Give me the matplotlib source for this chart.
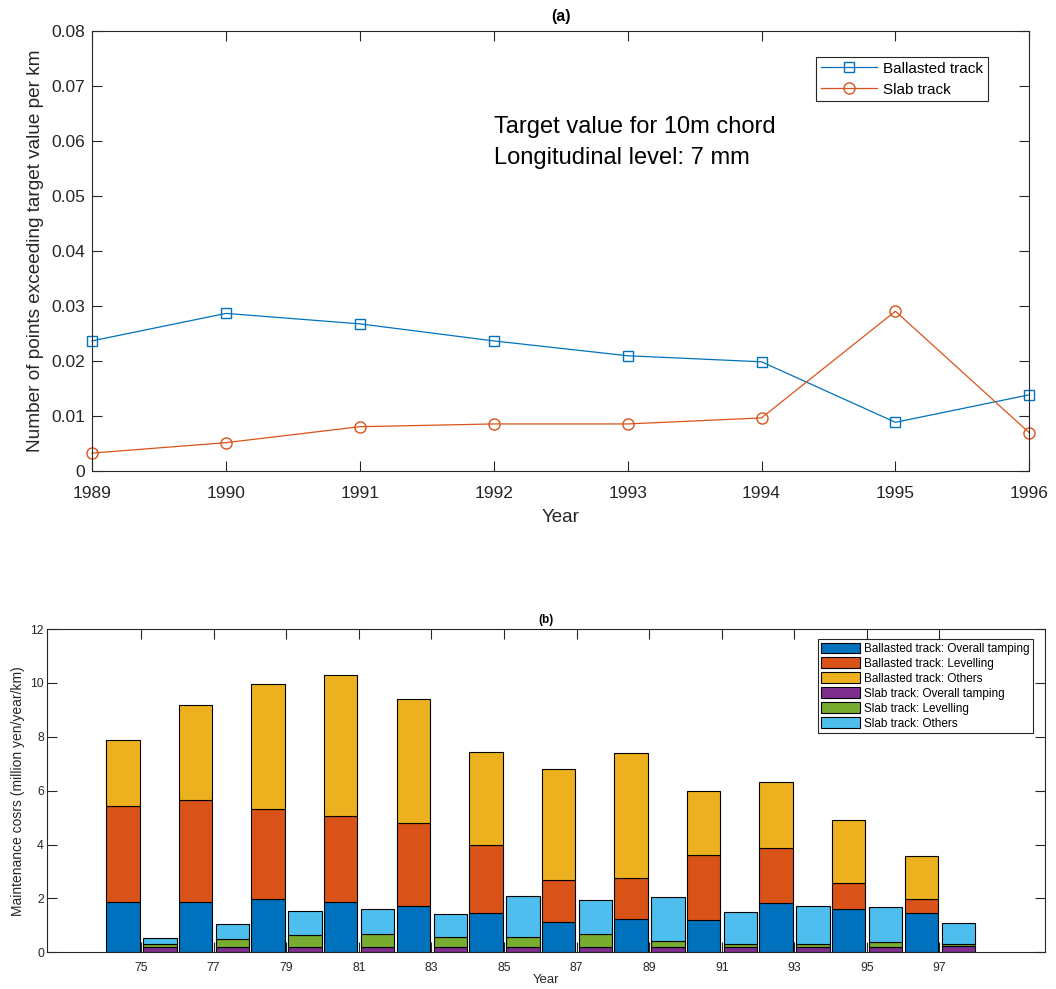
import numpy as np
import matplotlib
matplotlib.use('Agg')
import matplotlib.pyplot as plt

plt.rcParams['font.family'] = ['Liberation Sans', 'DejaVu Sans']

# (a) points exceeding the 7 mm target value, per km
years_a = [1989, 1990, 1991, 1992, 1993, 1994, 1995, 1996]
ballasted_exceed = [0.0236, 0.0286, 0.0267, 0.0236, 0.0209, 0.0198, 0.0088, 0.0138]
slab_exceed = [0.0032, 0.0051, 0.0080, 0.0085, 0.0085, 0.0096, 0.0290, 0.0069]

# (b) maintenance costs, million yen/year/km
years_b = [75, 77, 79, 81, 83, 85, 87, 89, 91, 93, 95, 97]
bal_tamping = [1.85, 1.85, 1.96, 1.85, 1.70, 1.47, 1.12, 1.22, 1.20, 1.84, 1.59, 1.47]
bal_levelling = [3.58, 3.82, 3.35, 3.21, 3.11, 2.53, 1.55, 1.55, 2.43, 2.02, 0.97, 0.49]
bal_others = [2.46, 3.52, 4.63, 5.25, 4.61, 3.43, 4.13, 4.64, 2.36, 2.47, 2.34, 1.63]
slab_tamping = [0.19, 0.19, 0.19, 0.21, 0.19, 0.19, 0.19, 0.19, 0.19, 0.19, 0.19, 0.22]
slab_levelling = [0.11, 0.32, 0.44, 0.46, 0.37, 0.37, 0.48, 0.23, 0.12, 0.12, 0.19, 0.09]
slab_others = [0.22, 0.53, 0.91, 0.92, 0.88, 1.54, 1.26, 1.64, 1.17, 1.39, 1.29, 0.76]

axis_col = '#262626'
c_blue, c_orange, c_yellow = '#0072BD', '#D95319', '#EDB120'
c_purple, c_green, c_cyan = '#7E2F8E', '#77AC30', '#4DBEEE'

W, H = 1056, 989
fig = plt.figure(figsize=(W / 100, H / 100), dpi=100)


def px_axes(left, top, right, bottom):
    return fig.add_axes([left / W, 1 - bottom / H, (right - left) / W, (bottom - top) / H])


def style_axes(ax, fs, ticklen, pad_x, pad_y):
    for sp in ax.spines.values():
        sp.set_color(axis_col)
        sp.set_linewidth(0.8)
    ax.tick_params(direction='in', top=True, right=True, length=ticklen, width=0.8,
                   color=axis_col, labelcolor=axis_col, labelsize=fs)
    ax.tick_params(axis='x', pad=pad_x)
    ax.tick_params(axis='y', pad=pad_y)


# ---- top panel ----
ax1 = px_axes(92, 30.7, 1029.3, 470.7)
ax1.plot(years_a, ballasted_exceed, color=c_blue, lw=0.9, marker='s', ms=6.5,
         mfc='none', mec=c_blue, mew=1.0, label='Ballasted track', clip_on=False)
ax1.plot(years_a, slab_exceed, color=c_orange, lw=0.9, marker='o', ms=8,
         mfc='none', mec=c_orange, mew=1.0, label='Slab track', clip_on=False)
ax1.set_xlim(1989, 1996)
ax1.set_ylim(0, 0.08)
ax1.set_xticks(years_a)
ax1.set_yticks(np.arange(0, 0.081, 0.01))
ax1.set_yticklabels(['0'] + ['%.2f' % v for v in np.arange(0.01, 0.081, 0.01)])
style_axes(ax1, 12.5, 7, 11, 5)
ax1.set_xlabel('Year', fontsize=13.5, color=axis_col, labelpad=6)
ax1.set_ylabel('Number of points exceeding target value per km', fontsize=13.7,
               color=axis_col, labelpad=5)
ax1.set_title('(a)', fontsize=11.5, fontweight='bold', color='black', pad=7)
ax1.text(1992, 0.0597, 'Target value for 10m chord\nLongitudinal level: 7 mm',
         fontsize=17, va='center', ha='left', linespacing=1.5)
leg1 = ax1.legend(loc='upper right', bbox_to_anchor=(0.956, 0.940), borderaxespad=0,
                  fontsize=11, handlelength=3.7, fancybox=False, framealpha=1,
                  edgecolor=axis_col, borderpad=0.3, labelspacing=0.45, handletextpad=0.4)
leg1.get_frame().set_linewidth(0.8)

# ---- bottom panel ----
ax2 = px_axes(46.7, 629, 1044.7, 952.3)
ax2.set_axisbelow(True)
yb = np.array(years_b, dtype=float)
bw = 0.92
kw = dict(width=bw, edgecolor='black', linewidth=0.8)

b1 = np.array(bal_tamping)
b2 = np.array(bal_levelling)
b3 = np.array(bal_others)
ax2.bar(yb - 0.5, b1, color=c_blue, label='Ballasted track: Overall tamping', **kw)
ax2.bar(yb - 0.5, b2, bottom=b1, color=c_orange, label='Ballasted track: Levelling', **kw)
ax2.bar(yb - 0.5, b3, bottom=b1 + b2, color=c_yellow, label='Ballasted track: Others', **kw)

s1 = np.array(slab_tamping)
s2 = np.array(slab_levelling)
s3 = np.array(slab_others)
ax2.bar(yb + 0.52, s1, color=c_purple, label='Slab track: Overall tamping', **kw)
ax2.bar(yb + 0.52, s2, bottom=s1, color=c_green, label='Slab track: Levelling', **kw)
ax2.bar(yb + 0.52, s3, bottom=s1 + s2, color=c_cyan, label='Slab track: Others', **kw)

ax2.set_xlim(72.4, 99.9)
ax2.set_ylim(0, 12)
ax2.set_xticks(years_b)
ax2.set_yticks(range(0, 13, 2))
style_axes(ax2, 8.8, 7.5, 7, 2)
ax2.set_xlabel('Year', fontsize=9.5, color=axis_col, labelpad=0)
ax2.set_ylabel('Maintenance cosrs (million yen/year/km)', fontsize=10,
               color=axis_col, labelpad=4)
ax2.set_title('(b)', fontsize=8.5, fontweight='bold', color='black', pad=4)
leg2 = ax2.legend(loc='upper right', bbox_to_anchor=(0.9883, 0.969), borderaxespad=0,
                  fontsize=8.5, handlelength=3.3, handleheight=1.0, fancybox=False,
                  framealpha=1, edgecolor=axis_col, borderpad=0.3, labelspacing=0.22,
                  handletextpad=0.3)
leg2.get_frame().set_linewidth(0.8)

fig.savefig('out.png', dpi=100, facecolor='white')
